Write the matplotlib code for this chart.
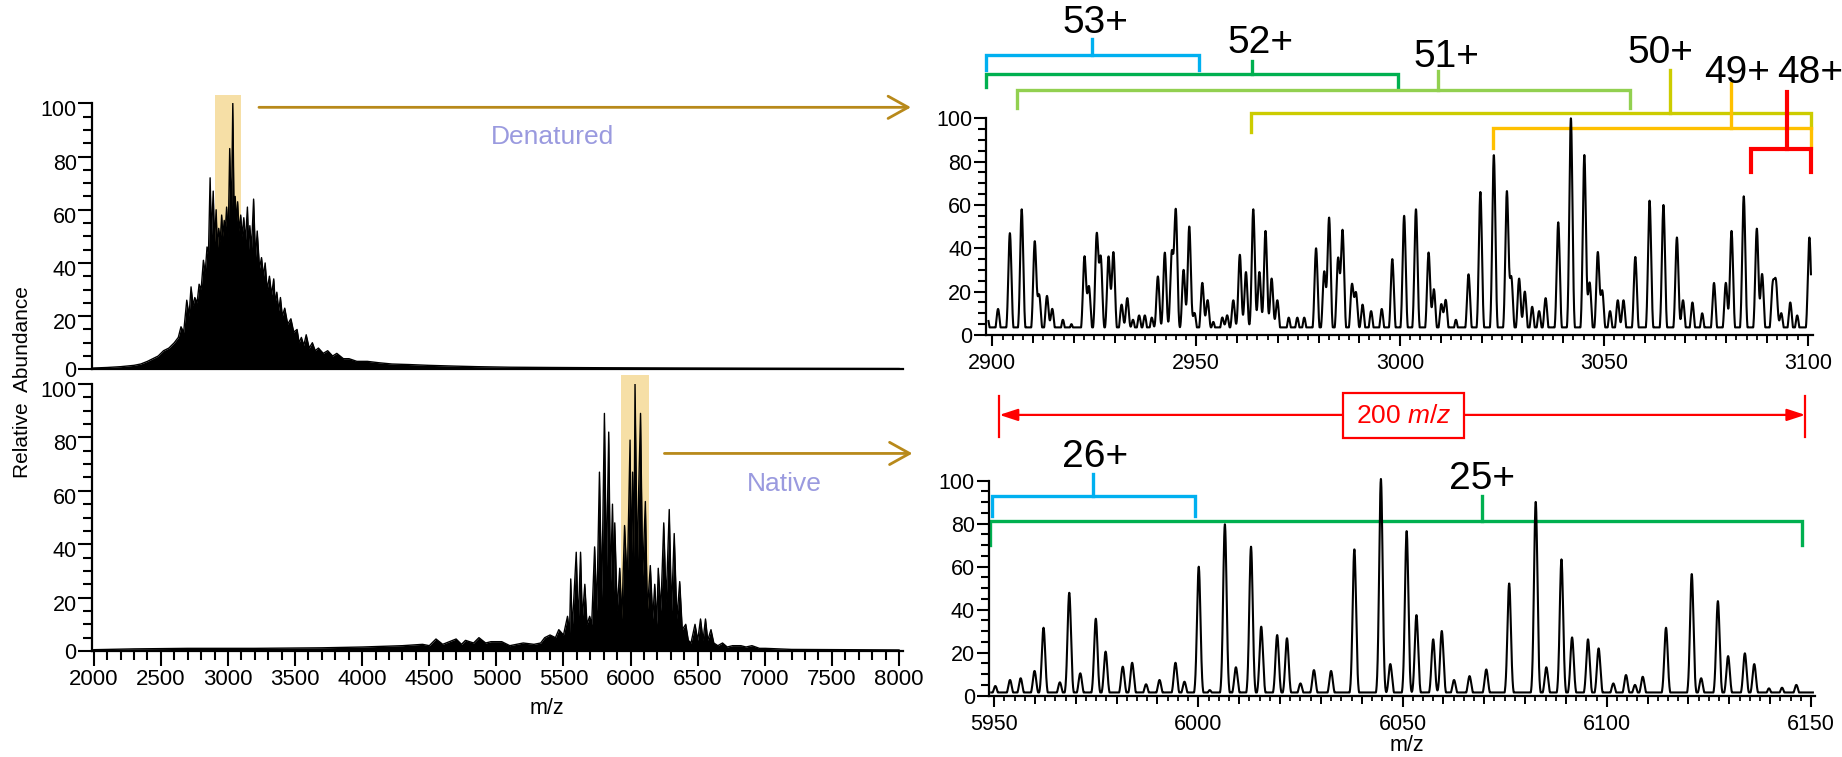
import numpy as np
import matplotlib
matplotlib.use('Agg')
import matplotlib.pyplot as plt
import matplotlib.transforms as mtransforms
from matplotlib.ticker import MultipleLocator, NullLocator
from matplotlib.patches import Rectangle

plt.rcParams['font.family'] = ['Liberation Sans', 'DejaVu Sans']
plt.rcParams['mathtext.fontset'] = 'custom'
plt.rcParams['mathtext.rm'] = 'Liberation Sans'
plt.rcParams['mathtext.it'] = 'Liberation Sans:italic'

# ---- overview spectra (m/z, relative abundance) ----
den_mz = [2000, 2100, 2200, 2300, 2350, 2400, 2440, 2480, 2520, 2560, 2600, 2630, 2650,
          2670, 2693, 2710, 2725, 2740, 2753, 2770, 2785, 2800, 2817, 2830, 2844, 2855,
          2867, 2877, 2890, 2900, 2912, 2921, 2931, 2942, 2953, 2962, 2972, 2980, 2990,
          3002, 3013, 3025, 3036, 3045, 3054, 3063, 3072, 3082, 3095, 3105, 3118, 3130,
          3145, 3155, 3163, 3175, 3191, 3205, 3218, 3235, 3250, 3265, 3277, 3292, 3309,
          3325, 3341, 3352, 3364, 3378, 3391, 3405, 3423, 3445, 3469, 3490, 3515, 3530,
          3547, 3565, 3583, 3605, 3629, 3650, 3674, 3710, 3743, 3780, 3811, 3860, 3902,
          3960, 4039, 4120, 4222, 4350, 4495, 4700, 4860, 5100, 5408, 5800, 6320, 7000, 8000]
den_ab = [0.5, 0.7, 1, 1.5, 2, 3, 4, 5, 7, 8, 10, 12, 16,
          14, 26, 20, 31, 24, 27, 25, 32, 30, 41, 36, 46, 44,
          72, 50, 67, 48, 60, 45, 53, 48, 58, 50, 56, 52, 61,
          50, 83, 55, 100, 60, 65, 55, 63, 52, 58, 50, 57, 48,
          61, 45, 54, 45, 64, 42, 52, 38, 42, 35, 40, 30, 35,
          28, 34, 25, 29, 22, 27, 20, 23, 17, 19, 14, 15, 10,
          12, 9, 13, 8, 10, 7, 8, 6, 7, 5, 6, 4, 4,
          3, 3, 2.5, 2, 1.8, 1.5, 1.2, 1, 0.8, 0.7, 0.6, 0.5, 0.4, 0.3]

nat_mz = [2000, 2300, 2700, 3200, 3700, 4000, 4300, 4450, 4500, 4550, 4600, 4700, 4740,
          4770, 4830, 4870, 4920, 4960, 5040, 5100, 5200, 5280, 5330, 5360, 5400, 5440,
          5465, 5500, 5530, 5545, 5554, 5565, 5595, 5610, 5627, 5640, 5659, 5675, 5695,
          5710, 5732, 5748, 5768, 5785, 5805, 5820, 5837, 5850, 5865, 5875, 5882, 5900,
          5919, 5935, 5955, 5975, 5996, 6005, 6015, 6025, 6033, 6050, 6060, 6074, 6090,
          6110, 6125, 6147, 6165, 6180, 6195, 6206, 6225, 6247, 6265, 6288, 6305, 6325,
          6345, 6366, 6385, 6411, 6430, 6450, 6480, 6500, 6521, 6540, 6558, 6575, 6599,
          6620, 6650, 6685, 6720, 6760, 6822, 6860, 6904, 6960, 7004, 7200, 7600, 8000]
nat_ab = [0.5, 0.8, 1, 1, 1.2, 1.5, 2, 2.5, 2, 4.5, 2.5, 4.5, 2.5,
          4, 3, 5, 3, 3.5, 3.5, 2, 3, 2.5, 3, 5, 6, 5,
          8, 6, 13, 7, 27, 8, 37, 10, 37, 12, 25, 10, 13,
          10, 39, 15, 67, 20, 89, 30, 82, 25, 55, 22, 48, 15,
          31, 12, 47, 25, 79, 30, 67, 35, 100, 30, 60, 89, 28,
          56, 15, 32, 12, 25, 10, 31, 15, 48, 18, 53, 15, 44,
          12, 26, 8, 10, 4, 3, 10, 4, 12, 4, 12, 4, 8,
          3, 2, 3, 1.5, 2, 2, 1.5, 2, 1, 1, 0.6, 0.5, 0.4]

# ---- zoomed spectra: peak centroids (m/z) and heights ----
den_peak_mz = [2898.8, 2901.4, 2904.3, 2907.2, 2910.4, 2911.5, 2913.4, 2914.7, 2917.3, 2919.4,
               2922.6, 2923.7, 2925.6, 2926.6, 2928.5, 2929.7, 2931.7, 2933.1, 2934.5, 2936.0,
               2937.4, 2939.1, 2940.6, 2942.3, 2944.0, 2945.0, 2946.9, 2948.3, 2949.6, 2951.5,
               2952.8, 2954.2, 2956.4, 2957.6, 2959.1, 2960.7, 2962.2, 2964.0, 2965.5, 2967.0,
               2968.5, 2969.9, 2972.7, 2974.8, 2976.5, 2979.4, 2981.4, 2982.6, 2984.8, 2985.9,
               2988.2, 2989.2, 2990.8, 2992.9, 2995.5, 2998.1, 3001.0, 3003.9, 3007.0, 3008.3,
               3010.1, 3011.2, 3013.7, 3016.8, 3019.7, 3023.0, 3026.2, 3027.3, 3029.2, 3030.6,
               3032.4, 3034.1, 3035.7, 3038.8, 3041.9, 3045.2, 3046.5, 3048.5, 3049.6, 3051.5,
               3053.4, 3054.8, 3057.7, 3061.2, 3064.6, 3067.9, 3069.4, 3071.7, 3074.1, 3077.0,
               3079.9, 3081.3, 3084.3, 3087.5, 3088.8, 3091.4, 3092.2, 3093.5, 3095.7, 3097.4,
               3100.4]
den_peak_ab = [8, 12, 47, 58, 43, 18, 18, 12, 7, 5,
               36, 22, 46, 35, 36, 38, 14, 17, 7, 9,
               9, 8, 27, 38, 37, 57, 30, 50, 10, 24,
               16, 6, 8, 9, 16, 37, 29, 58, 29, 48,
               26, 16, 8, 8, 8, 40, 29, 54, 35, 48,
               23, 19, 14, 11, 12, 35, 55, 58, 38, 21,
               14, 16, 7, 28, 66, 83, 66, 26, 26, 20,
               13, 11, 17, 52, 100, 83, 24, 38, 20, 11,
               16, 16, 36, 62, 60, 45, 16, 15, 10, 24,
               24, 48, 64, 49, 28, 22, 23, 10, 15, 9,
               45]

nat_peak_mz = [5950.3, 5953.9, 5956.5, 5959.9, 5962.1, 5966.1, 5968.4, 5971.1, 5974.9, 5977.3,
               5981.5, 5983.8, 5987.2, 5990.5, 5994.4, 5996.6, 6000.1, 6002.8, 6006.5, 6009.2,
               6012.9, 6015.4, 6019.3, 6021.7, 6025.0, 6028.3, 6032.5, 6038.2, 6044.7, 6047.0,
               6051.0, 6053.4, 6057.5, 6059.6, 6062.6, 6066.4, 6070.5, 6076.1, 6082.6, 6085.2,
               6088.9, 6091.5, 6095.4, 6098.0, 6101.6, 6104.7, 6106.9, 6108.8, 6114.5, 6120.8,
               6123.1, 6127.2, 6129.7, 6133.8, 6136.1, 6139.7, 6142.9, 6146.4]
nat_peak_ab = [4.5, 7.3, 8.1, 11.5, 31.6, 6.2, 47.9, 10.4, 35.8, 20.5,
               13.5, 15.3, 5.3, 7.3, 15.3, 6.5, 60, 2.6, 79.7, 13.2,
               69.3, 32.1, 28.2, 26.7, 5.7, 11.9, 11.5, 68.1, 100.8, 14.7,
               76.6, 37.5, 26.2, 30.1, 7.3, 9.1, 12.2, 52.2, 90.2, 13.2,
               63.4, 27.1, 26.2, 22, 5.7, 9.6, 5, 8.8, 31.6, 56.6,
               8.1, 44, 18.4, 19.7, 14.7, 3.4, 3.7, 5]

# ---- charge-state series brackets ----
den_charges = ['53+', '52+', '51+', '50+', '49+', '48+']
den_colors = ['#00B0F0', '#00B050', '#92D050', '#CCCC00', '#FFC000', '#FF0000']
den_span = [(2898.4, 2950.6), (2898.4, 2999.4), (2906.1, 3056.4),
            (2963.5, 3100.9), (3022.9, 3100.9), (3086.1, 3100.8)]
den_level = [129.2, 120.4, 113.1, 102.6, 95.4, 85.7]
den_drop = [(122.3, 122.3), (114.3, 114.3), (104.6, 104.6),
            (93.8, 95.4), (86.1, 86.1), (75.4, 75.4)]
den_tick = [(2924.4, 136.4), (2963.8, 126.6), (3009.4, 122.0),
            (3066.1, 122.3), (3081.2, 116.1), (3094.9, 112.3)]
den_label = [(2925.3, 143.9), (2965.7, 134.6), (3011.4, 128.1),
             (3063.8, 130.0), (3082.6, 121.0), (3100.5, 120.8)]

nat_charges = ['26+', '25+']
nat_colors = ['#00B0F0', '#00B050']
nat_span = [(5949.4, 5999.1), (5948.9, 6147.9)]
nat_level = [93.0, 81.1]
nat_drop = [(83.6, 83.6), (70.0, 70.0)]
nat_tick = [(5974.2, 103.1), (6069.4, 92.9)]
nat_label = [(5974.7, 110.9), (6069.4, 101.0)]

gold = '#B8891A'
lavender = '#9A9ADF'
tan = '#F6DFA6'


def profile(grid, centers, heights, width, base):
    c = np.asarray(centers)[:, None]
    h = np.asarray(heights)[:, None]
    y = (h * np.exp(-0.5 * ((grid[None, :] - c) / width) ** 2)).sum(axis=0)
    return np.maximum(y, base)


def style_axes(ax):
    for s in ['top', 'right']:
        ax.spines[s].set_visible(False)
    for s in ['left', 'bottom']:
        ax.spines[s].set_linewidth(1.6)
    ax.set_ylim(0, 100)
    ax.yaxis.set_major_locator(MultipleLocator(20))
    ax.yaxis.set_minor_locator(MultipleLocator(5))


def draw_brackets(ax, charges, colors, span, level, drop, tick, label):
    for i in range(len(charges)):
        lw = 3.0 if colors[i] == '#FF0000' else 2.4
        x0, x1 = span[i]
        ax.plot([x0, x0, x1, x1], [drop[i][0], level[i], level[i], drop[i][1]],
                color=colors[i], lw=lw, clip_on=False, solid_joinstyle='miter')
        ax.plot([tick[i][0], tick[i][0]], [level[i], tick[i][1]],
                color=colors[i], lw=lw, clip_on=False)
        ax.text(label[i][0], label[i][1], charges[i], fontsize=28,
                ha='center', va='center', clip_on=False)


fig = plt.figure(figsize=(18.42, 7.57), dpi=100)

ax_tl = fig.add_axes([0.04995, 0.5121, 0.4403, 0.3514])
ax_bl = fig.add_axes([0.04995, 0.1400, 0.4403, 0.3527])
ax_tr = fig.add_axes([0.5353, 0.5575, 0.4490, 0.2863])
ax_br = fig.add_axes([0.5368, 0.0810, 0.4486, 0.2840])

# ---- left overview panels ----
shift_down = mtransforms.ScaledTranslation(0, -5 / 100, fig.dpi_scale_trans)
for ax, mz, ab in [(ax_tl, den_mz, den_ab), (ax_bl, nat_mz, nat_ab)]:
    style_axes(ax)
    ax.fill_between(mz, ab, 0, color='black', lw=0, zorder=2)
    ax.plot(mz, ab, color='black', lw=1.0, zorder=3)
    ax.set_xlim(1987, 8030)
    ax.tick_params(axis='y', which='major', length=10, width=1.5, labelsize=15.5, pad=1)
    ax.tick_params(axis='y', which='minor', length=6.5, width=1.5)
    locs = ax.get_yticks()
    for loc, t in zip(locs, ax.yaxis.get_major_ticks(len(locs))):
        if loc > 0:
            t.label1.set_transform(t.label1.get_transform() + shift_down)

ax_tl.axvspan(2900, 3100, ymin=0, ymax=1.031, color=tan, lw=0, zorder=1, clip_on=False)
ax_bl.axvspan(5925, 6140, ymin=0, ymax=1.034, color=tan, lw=0, zorder=1, clip_on=False)

ax_tl.tick_params(axis='x', which='both', bottom=False, labelbottom=False)
ax_bl.xaxis.set_major_locator(MultipleLocator(500))
ax_bl.xaxis.set_minor_locator(MultipleLocator(100))
ax_bl.tick_params(axis='x', which='major', length=11, width=1.5, labelsize=16, pad=2)
ax_bl.tick_params(axis='x', which='minor', length=6.5, width=1.5)
ax_bl.text(0.561, -0.2135, 'm/z', transform=ax_bl.transAxes, ha='center', va='center',
           fontsize=15.5)

arrow_gold = dict(arrowstyle='->,head_length=0.72,head_width=0.4', color=gold, lw=2.0,
                  mutation_scale=20, shrinkA=0, shrinkB=0)
ax_tl.annotate('', xy=(8089, 98.5), xytext=(3231, 98.5), arrowprops=arrow_gold,
               annotation_clip=False)
ax_bl.annotate('', xy=(8100, 74), xytext=(6252, 74), arrowprops=arrow_gold,
               annotation_clip=False)
ax_tl.text(5415, 87.4, 'Denatured', color=lavender, fontsize=19, ha='center', va='center')
ax_bl.text(7147, 62.4, 'Native', color=lavender, fontsize=19, ha='center', va='center')

fig.text(0.012, 1 - 382 / 757, 'Relative  Abundance', rotation=90, ha='center',
         va='center', fontsize=15)

# ---- right zoomed panels ----
zooms = [(ax_tr, (2898.45, 3101.3), den_peak_mz, den_peak_ab, 0.38, 3.5),
         (ax_br, (5948.7, 6151.0), nat_peak_mz, nat_peak_ab, 0.42, 1.5)]
for ax, lim, pmz, pab, width, base in zooms:
    style_axes(ax)
    grid = np.arange(lim[0] + 0.6, lim[1] - 0.5, 0.04)
    ax.plot(grid, profile(grid, pmz, pab, width, base), color='black', lw=1.5,
            clip_on=False, zorder=3)
    ax.set_xlim(*lim)
    ax.xaxis.set_major_locator(MultipleLocator(50))
    ax.xaxis.set_minor_locator(MultipleLocator(2.5))
    ax.tick_params(axis='x', which='major', length=8, width=1.5, labelsize=15.5, pad=5)
    ax.tick_params(axis='x', which='minor', length=3.5, width=1.3)
    ax.tick_params(axis='y', which='major', length=9, width=1.5, labelsize=15.5, pad=1)
    ax.tick_params(axis='y', which='minor', length=6, width=1.5)
    mid = ax.secondary_xaxis('bottom')
    mid.xaxis.set_major_locator(MultipleLocator(10))
    mid.xaxis.set_minor_locator(NullLocator())
    mid.tick_params(axis='x', length=5.5, width=1.4, labelbottom=False)
    mid.spines['bottom'].set_visible(False)

ax_br.text(0.506, -0.234, 'm/z', transform=ax_br.transAxes, ha='center', va='center',
           fontsize=15.5)

draw_brackets(ax_tr, den_charges, den_colors, den_span, den_level, den_drop, den_tick, den_label)
draw_brackets(ax_br, nat_charges, nat_colors, nat_span, nat_level, nat_drop, nat_tick, nat_label)

# 200 m/z span marker
arrow_red = dict(arrowstyle='<|-|>,head_length=0.55,head_width=0.18', color='red', lw=1.6,
                 mutation_scale=20, shrinkA=0, shrinkB=0)
ax_br.annotate('', xy=(6148.6, 130.6), xytext=(5951.3, 130.6), arrowprops=arrow_red,
               annotation_clip=False)
for xe in (5951.3, 6148.6):
    ax_br.plot([xe, xe], [120.5, 139.4], color='red', lw=1.6, clip_on=False)
ax_br.add_patch(Rectangle((6035.3, 119.7), 29.8, 20.9, facecolor='white', edgecolor='red',
                          lw=1.6, clip_on=False, zorder=5))
ax_br.text(6050.2, 130.2, '200 $m/z$', color='red', fontsize=19, ha='center', va='center',
           zorder=6, clip_on=False)

fig.savefig('out.png', dpi=100)
